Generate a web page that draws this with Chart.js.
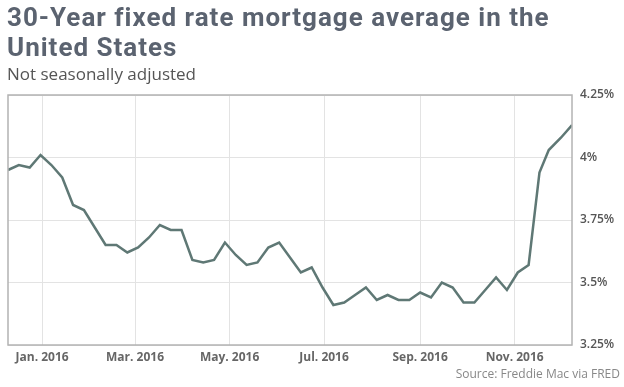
<!DOCTYPE html>
<html>
<head>
<meta charset="utf-8">
<script src="https://cdn.jsdelivr.net/npm/chart.js@4.4.1/dist/chart.umd.min.js"></script>
<style>
  html, body { margin: 0; padding: 0; background: #fff; }
  body { width: 624px; height: 387px; position: relative; overflow: hidden; }
  #title { position: absolute; left: 7px; top: 2px; font-family: Roboto, sans-serif; font-weight: 700; font-size: 26px; line-height: 30px; color: #5b6370; letter-spacing: 1px; white-space: nowrap; }
  #sub { position: absolute; left: 7px; top: 62px; font-family: "Open Sans", sans-serif; font-size: 17px; color: #555; }
  #src { position: absolute; right: 4px; top: 365px; font-family: "Open Sans", sans-serif; font-size: 12px; color: #888; }
  #wrap { position: absolute; left: 0; top: 0; width: 624px; height: 387px; }
</style>
</head>
<body>
<div id="wrap"><canvas id="c" width="624" height="387"></canvas></div>
<div id="title">30-Year fixed rate mortgage average in the<br>United States</div>
<div id="sub">Not seasonally adjusted</div>
<div id="src">Source: Freddie Mac via FRED</div>
<script>
const weekDates = [
  "2015-12-10","2015-12-17","2015-12-24","2015-12-31",
  "2016-01-07","2016-01-14","2016-01-21","2016-01-28",
  "2016-02-04","2016-02-11","2016-02-18","2016-02-25",
  "2016-03-03","2016-03-10","2016-03-17","2016-03-24","2016-03-31",
  "2016-04-07","2016-04-14","2016-04-21","2016-04-28",
  "2016-05-05","2016-05-12","2016-05-19","2016-05-26",
  "2016-06-02","2016-06-09","2016-06-16","2016-06-23","2016-06-30",
  "2016-07-07","2016-07-14","2016-07-21","2016-07-28",
  "2016-08-04","2016-08-11","2016-08-18","2016-08-25",
  "2016-09-01","2016-09-08","2016-09-15","2016-09-22","2016-09-29",
  "2016-10-06","2016-10-13","2016-10-20","2016-10-27",
  "2016-11-03","2016-11-10","2016-11-17","2016-11-23",
  "2016-12-01","2016-12-08"
];
const rates = [
  3.95,3.97,3.96,4.01,
  3.97,3.92,3.81,3.79,
  3.72,3.65,3.65,3.62,
  3.64,3.68,3.73,3.71,3.71,
  3.59,3.58,3.59,3.66,
  3.61,3.57,3.58,3.64,
  3.66,3.60,3.54,3.56,3.48,
  3.41,3.42,3.45,3.48,
  3.43,3.45,3.43,3.43,
  3.46,3.44,3.50,3.48,3.42,
  3.42,3.47,3.52,3.47,
  3.54,3.57,3.94,4.03,
  4.08,4.13
];
const monthTicks = ["2016-01-01","2016-03-01","2016-05-01","2016-07-01","2016-09-01","2016-11-01"];
const monthTickLabels = ["Jan. 2016","Mar. 2016","May. 2016","Jul. 2016","Sep. 2016","Nov. 2016"];
const yTicks = [3.25, 3.5, 3.75, 4, 4.25];
const yTickLabels = ["3.25%","3.5%","3.75%","4%","4.25%"];
const xRange = ["2015-12-10","2016-12-08"];

const DAY = 86400000;
const toDay = s => Date.parse(s + "T00:00:00Z") / DAY;
const points = weekDates.map((d, i) => ({ x: toDay(d), y: rates[i] }));
const tickDays = monthTicks.map(toDay);

const frame = {
  id: 'frame',
  afterDraw(chart) {
    const a = chart.chartArea, ctx = chart.ctx;
    ctx.save();
    ctx.strokeStyle = '#b3b3b3';
    ctx.lineWidth = 1.5;
    ctx.strokeRect(a.left, a.top, a.right - a.left, a.bottom - a.top);
    ctx.restore();
  }
};

new Chart(document.getElementById('c'), {
  type: 'line',
  data: { datasets: [{
    data: points,
    borderColor: '#5f7875',
    borderWidth: 2.5,
    pointRadius: 0,
    tension: 0,
    fill: false
  }]},
  options: {
    responsive: false,
    animation: false,
    events: [],
    layout: { padding: { left: 8, top: 95, right: 0, bottom: 0 } },
    plugins: { legend: { display: false }, tooltip: { enabled: false } },
    scales: {
      x: {
        type: 'linear',
        min: toDay(xRange[0]),
        max: toDay(xRange[1]),
        afterBuildTicks: s => { s.ticks = tickDays.map(v => ({ value: v })); },
        afterFit: s => { s.height = 42; },
        grid: { color: '#e3e3e3', lineWidth: 1, drawTicks: false },
        border: { display: false },
        ticks: {
          padding: 5,
          color: '#666',
          font: { family: 'Open Sans', size: 12, weight: 'bold' },
          maxRotation: 0,
          autoSkip: false,
          callback: v => { const i = tickDays.indexOf(v); return i >= 0 ? monthTickLabels[i] : ''; }
        }
      },
      y: {
        position: 'right',
        min: 3.25,
        max: 4.25,
        afterBuildTicks: s => { s.ticks = yTicks.map(v => ({ value: v })); },
        afterFit: s => { s.width = 52; },
        grid: { color: '#e3e3e3', lineWidth: 1, drawTicks: false },
        border: { display: false },
        ticks: {
          padding: 8,
          color: '#555',
          font: { family: 'Open Sans', size: 12, weight: '600' },
          callback: v => { const i = yTicks.indexOf(v); return i >= 0 ? yTickLabels[i] : ''; }
        }
      }
    }
  },
  plugins: [frame]
});
</script>
</body>
</html>
